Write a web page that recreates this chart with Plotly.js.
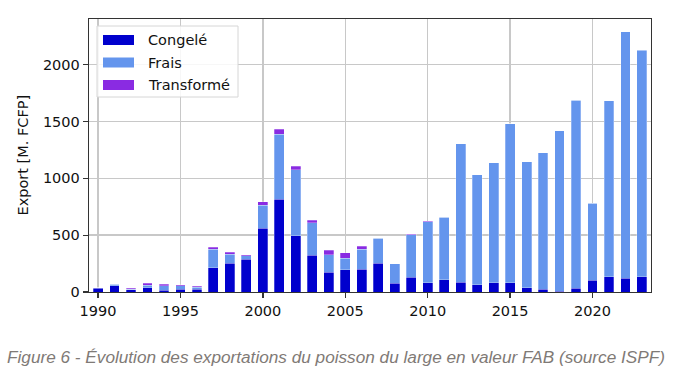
<!DOCTYPE html>
<html>
<head>
<meta charset="utf-8">
<script src="https://cdn.plot.ly/plotly-3.0.1.min.js"></script>
<style>html,body{margin:0;padding:0;background:#fff;}#chart{width:674px;height:375px;}</style>
</head>
<body>
<div id="chart"></div>
<script>
const years = [1990,1991,1992,1993,1994,1995,1996,1997,1998,1999,2000,2001,2002,2003,2004,2005,2006,2007,2008,2009,2010,2011,2012,2013,2014,2015,2016,2017,2018,2019,2020,2021,2022,2023];
const congele = [35,55,18,38,15,26,26,213,252,289,560,814,494,323,173,194,200,253,76,129,82,109,88,65,82,82,38,23,5,32,103,135,123,135];
const frais = [3,12,6,20,38,30,18,161,81,30,202,574,582,286,156,103,176,220,174,374,538,547,1217,967,1056,1399,1106,1203,1415,1657,677,1549,2165,1991];
const transforme = [0,0,8,18,17,8,6,21,15,8,30,44,29,23,39,47,27,0,0,6,4,0,0,0,0,0,0,0,0,0,0,0,0,6];
const seriesNames = ["Congelé","Frais","Transformé"];
const seriesColors = ["#0000CD","#6495ED","#8A2BE2"];
const yTitle = "Export [M. FCFP]";
const caption = "Figure 6 - Évolution des exportations du poisson du large en valeur FAB (source ISPF)";

const L = 89, R = 651, T = 19, B = 292;
const px = X => (X - L) / (R - L);
const py = Y => (B - Y) / (B - T);

const font = {family: "DejaVu Sans", size: 14.5, color: "#111"};
const data = [congele, frais, transforme].map((v, i) => ({
  type: "bar", x: years, y: v, name: seriesNames[i], width: 0.6,
  marker: {color: seriesColors[i], line: {width: 0.6, color: "rgba(255,255,255,0.45)"}},
  showlegend: false, hoverinfo: "skip"
}));

const shapes = [{type: "rect", xref: "paper", yref: "paper", x0: px(97), x1: px(238), y0: py(97), y1: py(26),
  fillcolor: "rgba(255,255,255,0.85)", line: {color: "#d6d6d6", width: 1}, layer: "above"}];
const annotations = [];
const rowY = [40, 62.5, 85];
seriesNames.forEach((n, i) => {
  shapes.push({type: "rect", xref: "paper", yref: "paper", x0: px(103), x1: px(134), y0: py(rowY[i] + 5), y1: py(rowY[i] - 5),
    fillcolor: seriesColors[i], line: {width: 0}, layer: "above"});
  annotations.push({xref: "paper", yref: "paper", x: px(146), y: py(rowY[i]), xanchor: "left", yanchor: "middle",
    text: n, showarrow: false, font: font});
});
annotations.push({xref: "paper", yref: "paper", x: px(22), y: py(155.5), text: yTitle, textangle: -90,
  xanchor: "center", yanchor: "middle", showarrow: false, font: font});
annotations.push({xref: "paper", yref: "paper", x: px(5), y: py(357), xanchor: "left", yanchor: "middle",
  text: "<i>" + caption + "</i>", showarrow: false,
  font: {family: "Liberation Sans, Arial, sans-serif", size: 17.2, color: "#7f7a76"}});

const layout = {
  width: 674, height: 375,
  margin: {l: L, r: 674 - R, t: T, b: 375 - B, pad: 0},
  paper_bgcolor: "#fff", plot_bgcolor: "#fff",
  barmode: "stack", font: font, showlegend: false,
  xaxis: {range: [1989.45, 2023.55], tick0: 1990, dtick: 5, showgrid: true, gridcolor: "#c8c8c8", gridwidth: 1.5,
    showline: true, mirror: true, linecolor: "#333", linewidth: 1.3, ticks: "outside", ticklen: 5, tickwidth: 1.3,
    tickcolor: "#333", zeroline: false, tickfont: font, automargin: false},
  yaxis: {range: [0, 2402], tick0: 0, dtick: 500, showgrid: true, gridcolor: "#c8c8c8", gridwidth: 1.5,
    showline: true, mirror: true, linecolor: "#333", linewidth: 1.3, ticks: "outside", ticklen: 5, tickwidth: 1.3,
    tickcolor: "#333", zeroline: false, tickfont: font, automargin: false},
  shapes: shapes, annotations: annotations
};
Plotly.newPlot("chart", data, layout, {staticPlot: true, displayModeBar: false});
</script>
</body>
</html>
